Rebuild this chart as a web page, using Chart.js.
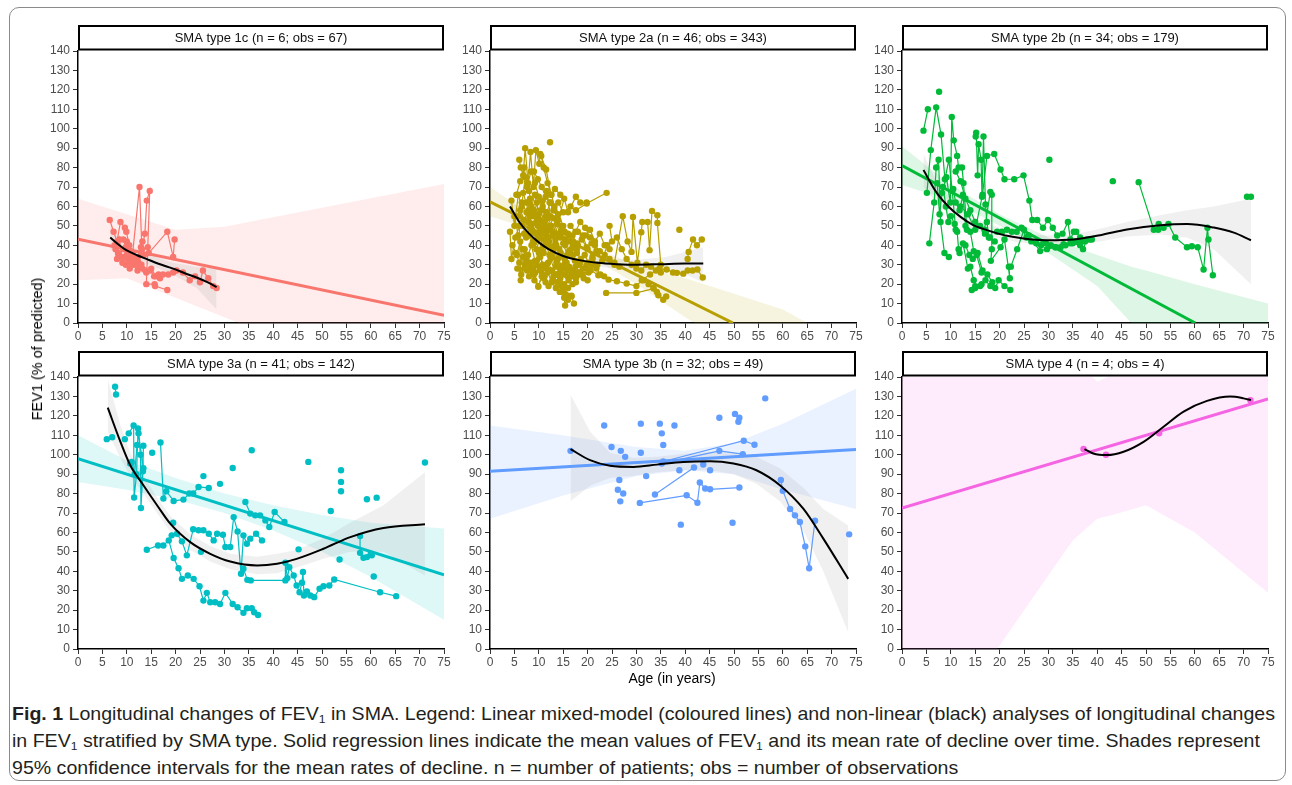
<!DOCTYPE html>
<html>
<head>
<meta charset="utf-8">
<script src="https://cdn.jsdelivr.net/npm/chart.js@4.4.1/dist/chart.umd.min.js"></script>
<style>
  body { margin: 0; width: 1292px; height: 785px; background: #fff; position: relative; overflow: hidden; font-family: "Liberation Sans", Arial, sans-serif; }
  .frame { position: absolute; left: 9px; top: 7px; width: 1275px; height: 772px; border: 1.5px solid #8a8a8a; border-radius: 10px; }
  canvas { position: absolute; }
  .ytitle { position: absolute; left: 37px; top: 349px; transform: translate(-50%, -50%) rotate(-90deg); white-space: nowrap; font-size: 14.5px; color: #000; }
  .xtitle { position: absolute; left: 672px; top: 678px; transform: translate(-50%, -50%); white-space: nowrap; font-size: 14px; color: #000; }
  .caption { position: absolute; left: 12px; top: 700px; font-family: "Liberation Sans", Arial, sans-serif; font-size: 18.5px; line-height: 27px; color: #231f20; transform-origin: 0 0; }
  .caption .line { white-space: nowrap; width: max-content; }
  .caption sub { font-size: 0.62em; vertical-align: -0.25em; line-height: 0; }
</style>
</head>
<body>
<div class="frame"></div>
<canvas id="p1c" width="422" height="320" style="left:34px;top:25px"></canvas>
<canvas id="p2a" width="422" height="320" style="left:446px;top:25px"></canvas>
<canvas id="p2b" width="422" height="320" style="left:858px;top:25px"></canvas>
<canvas id="p3a" width="422" height="320" style="left:34px;top:351px"></canvas>
<canvas id="p3b" width="422" height="320" style="left:446px;top:351px"></canvas>
<canvas id="p4" width="422" height="320" style="left:858px;top:351px"></canvas>
<div class="ytitle">FEV1 (% of predicted)</div>
<div class="xtitle">Age (in years)</div>
<div class="caption">
  <div class="line"><b>Fig. 1</b> Longitudinal changes of FEV<sub>1</sub> in SMA. Legend: Linear mixed-model (coloured lines) and non-linear (black) analyses of longitudinal changes</div>
  <div class="line">in FEV<sub>1</sub> stratified by SMA type. Solid regression lines indicate the mean values of FEV<sub>1</sub> and its mean rate of decline over time. Shades represent</div>
  <div class="line">95% confidence intervals for the mean rates of decline. n = number of patients; obs = number of observations</div>
</div>
<script>
/* ---------- data: [age, FEV1 %pred] per patient track ---------- */
const panelTitles = [
  "SMA type 1c (n = 6; obs = 67)", "SMA type 2a (n = 46; obs = 343)", "SMA type 2b (n = 34; obs = 179)",
  "SMA type 3a (n = 41; obs = 142)", "SMA type 3b (n = 32; obs = 49)", "SMA type 4 (n = 4; obs = 4)"
];
const ageTicks = { min: 0, max: 75, step: 5 };
const fevTicks = { min: 0, max: 140, step: 10 };

const obs1c = [
  [[6.5,53],[7.3,47],[8.0,42],[8.7,52],[9.6,49],[9.9,47],[10.5,40],[11.2,36],[12.6,70],[13.1,38],[13.5,35],[14.5,36],[18.3,47],[19.5,34],[19.8,43]],
  [[7.7,38],[8.0,33],[8.5,43],[9.1,31],[10.0,35],[10.6,28],[11.5,33],[12.3,29],[13.0,36],[13.7,46],[14.1,63],[14.7,68],[14.3,39],[14.0,20],[15.7,20],[15.8,19],[18.3,17]],
  [[9.3,43],[9.8,39],[10.3,36],[10.9,31],[11.6,34],[12.1,33],[12.9,39],[13.2,42]],
  [[10.0,42],[10.8,37],[11.6,32],[12.4,31],[13.2,28],[13.8,27],[14.8,27],[15.6,24],[16.5,25],[17.4,25],[18.5,25],[19.5,26],[20.2,27],[21.5,26],[22.9,22],[24.0,24],[25.0,21],[25.6,27],[26.7,23],[27.7,19],[28.4,18]],
  [[8.2,36],[9.0,34],[9.8,30],[10.6,33],[11.4,30],[12.2,27],[13.0,30],[14.0,26],[15.0,28],[16.0,24],[16.8,23]],
  [[7.5,40],[8.3,35],[9.4,38],[10.2,33],[11.0,35]]
];
const fit1c = [[0,43.1],[75,4.0]];
const ci1c = [[0,22,64],[10,23,56],[20,13,48],[30,3,49.5],[75,-42,71.5]];
const smooth1c = [[6.6,44],[8,41],[9.9,37.5],[12,35],[14,33],[16.5,30.5],[19.5,28],[22,25.5],[24.3,23.4],[26.5,21],[28.4,18.5]];
const smoothCi1c = [[6.6,38,50],[10,34,41],[14,30.5,35.5],[19.5,25,31],[24.3,18,29],[28.4,7,28]];

const obs2a = [
  [[4.1,47],[4.4,33],[5.2,44],[6.0,50],[6.3,22],[7.1,38],[8.0,30],[9.0,25],[9.9,19],[10.6,24],[11.4,21]],
  [[4.4,63],[5.0,50],[5.8,66],[6.5,60],[7.2,75],[8.0,68],[8.9,55],[9.6,62],[10.5,48],[11.2,52],[12.0,44]],
  [[6.0,84],[6.3,80],[6.8,76],[7.2,90],[7.8,72],[8.3,88],[8.9,70],[9.4,89],[10.1,82],[10.3,87],[11.5,79],[12.5,66],[13.3,69],[14.4,66]],
  [[5.5,35],[6.2,42],[7.0,28],[7.8,35],[8.5,40],[9.2,32],[10.0,36],[10.8,30],[11.6,28],[12.4,33],[13.5,25],[14.5,20],[15.0,17],[15.4,9],[16.0,14],[16.7,14],[17.2,10]],
  [[6.5,62],[7.5,57],[8.2,64],[9.0,58],[9.8,50],[10.8,60],[11.6,57],[12.4,62],[13.2,58],[14.0,53],[15.2,64],[16.0,57],[17.6,65],[18.5,62],[19.8,62]],
  [[8.0,45],[8.8,42],[9.5,38],[10.3,44],[11.0,36],[11.9,40],[12.8,34],[13.6,31],[14.5,36],[15.3,33],[16.2,29],[17.0,27],[18.0,26],[19.0,25],[20.5,27.5],[22.2,24.6],[24.3,22.3],[26.0,21.5],[28.0,20.3],[30.0,19],[31.1,22],[32.8,25],[34.7,28],[36.2,27.5],[37.5,26],[38.3,25.8],[39.6,25.4],[40.5,27],[41.5,27],[42.5,27.5],[43.6,23.4]],
  [[40.5,33],[40.7,36.6],[41.6,43],[42.4,40],[43.4,43]],
  [[25.5,31],[27.2,55],[28.2,42],[29.0,36.6],[29.3,54.6],[30.2,31],[31.0,46.7],[31.2,52],[32.3,52],[32.7,37.5],[33.2,57.7],[34.3,55.5],[34.3,51.5],[35.0,30]],
  [[23.8,15.5],[30.0,15.5],[33.5,17.7]],
  [[31.5,22],[32.5,20],[33.5,18],[34.2,16],[34.5,14.3],[35.5,12],[36.1,13.7]],
  [[10.5,86],[11.0,80],[11.8,72],[12.6,66],[13.2,60],[14.0,56],[15.0,50],[16.0,46],[17.0,42],[18.0,40],[19.0,45],[20.0,38],[21.0,34],[22.0,36],[23.0,32],[24.0,40]],
  [[12.3,93]],
  [[38.8,48]],
  [[14.0,62],[15.0,57],[16.5,60],[17.6,58],[19.8,61.5],[23.9,67]],
  [[5.0,55],[5.8,45],[6.7,38],[7.5,33],[8.4,27],[9.1,22],[9.9,18.6],[10.7,25],[11.5,30],[12.3,27],[13.0,24],[13.8,21],[14.6,19],[15.4,15],[16.0,12],[16.7,13.7]],
  [[7.0,46],[7.8,52],[8.6,48],[9.5,55],[10.2,47],[11.0,43],[11.8,48],[12.6,39],[13.4,43],[14.2,38],[15.0,41],[15.8,35],[16.6,38],[17.4,32],[18.2,30],[19.0,28],[19.8,30],[20.6,27]],
  [[8.5,60],[9.2,66],[10.0,56],[10.8,63],[11.4,55],[12.2,50],[13.0,54],[13.8,46],[14.6,50],[15.4,43],[16.2,45],[17.0,40],[17.8,36],[18.6,33],[19.4,35],[20.2,31],[21.0,33],[22.0,30]],
  [[5.6,28],[6.4,25],[7.2,30],[8.0,24],[8.8,28],[9.6,32],[10.4,27],[11.2,24],[12.0,19],[12.8,22],[13.6,25],[14.4,23],[15.2,20],[16.0,18]],
  [[24.5,50],[25.0,42],[26.0,44],[27.0,38],[28.0,33],[29.0,30],[30.0,28],[31.0,27],[32.0,30],[33.0,29],[34.0,27],[35.0,26]],
  [[9.0,78],[9.8,74],[10.6,70],[11.4,65],[12.2,62],[13.0,58],[13.8,54],[14.6,47],[15.4,40],[16.2,37],[17.0,35],[17.8,38],[18.6,32],[19.4,28],[20.2,26],[21.0,30],[21.8,28],[22.6,25],[23.4,24]],
  [[12.8,45],[13.6,40],[14.4,35],[15.2,30],[16.0,27],[16.8,24],[17.6,23],[18.4,25],[19.2,23],[20.0,22]],
  [[18.0,47],[19.5,45],[20.5,48],[21.5,42],[22.5,46],[23.5,40],[24.5,38]],
  [[5.4,66],[6.2,73],[7.0,80],[7.6,70],[8.4,78],[9.2,72],[10.0,65],[10.8,58],[11.6,68],[12.4,55]],
  [[6.8,67],[7.4,62],[8.1,55],[8.9,47],[9.7,43],[10.5,52],[11.3,46],[12.1,42],[12.9,37],[13.7,30],[14.5,28],[15.3,25],[16.1,22],[16.9,20],[17.7,24]],
  [[4.6,40],[5.3,36],[6.0,31],[6.8,34],[7.6,27],[8.4,31],[9.3,26],[10.1,29],[11.0,23],[11.8,26],[12.7,21],[13.5,18],[14.3,16],[15.2,13]],
  [[5.9,55],[6.7,50],[7.4,44],[8.2,49],[9.0,41],[9.8,45],[10.6,38],[11.4,41],[12.2,35],[13.0,38],[13.9,33],[14.8,29],[15.7,31],[16.6,27],[17.5,29],[18.4,26]],
  [[7.9,62],[8.7,57],[9.5,52],[10.4,58],[11.2,50],[12.0,54],[12.9,47],[13.7,51],[14.5,44],[15.3,47],[16.1,42],[16.9,45],[17.8,41],[18.8,43],[19.8,39],[20.8,41],[21.8,37]],
  [[9.5,30],[10.3,34],[11.1,29],[11.9,31],[12.7,27],[13.5,29],[14.3,26],[15.1,28],[15.9,24],[16.8,26],[17.6,21]],
  [[6.2,58],[7.0,53],[7.9,58],[8.6,51],[9.4,46],[10.2,53],[11.0,48],[11.8,44],[12.6,50],[13.4,41],[14.2,45]],
  [[16.5,50],[17.5,47],[18.5,52],[19.5,49],[20.5,44],[21.5,40],[22.5,37],[23.5,35],[24.5,33],[25.5,30],[26.5,29]]
];
const fit2a = [[0,62.4],[49.8,0]];
const ci2a = [[0,55,70],[10,47,53],[20,35,40],[30,20,30],[40,3,23],[50,-12,15],[60,-28,7],[65,-36,0],[75,-50,-12]];
const smooth2a = [[4.1,60],[6,52],[8,46],[10,41.5],[12,38],[15,34.5],[18,32.5],[22,31],[26,30.3],[30,30],[35,30.3],[40,30.6],[43.7,30.6]];
const smoothCi2a = [[4.1,54,66],[8,43,49],[12,35.5,40.5],[18,30.5,34.5],[24,28.5,33],[30,27.5,32.5],[36,27,34],[40,25,36.5],[43.7,21,39]];

const obs2b = [
  [[4.4,99],[5.3,110]],
  [[5.1,67],[5.9,89],[7.0,111],[8.0,97],[8.8,74],[9.6,84],[10.3,68],[11.0,48]],
  [[5.6,41],[6.6,62],[7.0,80],[7.5,84],[7.9,52],[8.7,36],[9.6,34]],
  [[7.6,119]],
  [[7.2,72],[7.7,56],[8.2,67],[9.1,75],[9.9,62],[10.2,106],[10.6,94],[11.3,86],[11.6,80],[12.3,80],[12.6,72],[13.3,48]],
  [[8.4,70],[9.0,60],[9.5,52],[10.0,55],[10.8,51],[11.3,47],[11.6,38],[11.8,36],[12.5,41],[13.5,28],[14.0,29],[14.7,22],[15.0,19],[16.0,19]],
  [[10.5,69],[11.0,62],[11.8,58],[12.5,66],[13.0,50],[14.0,47],[14.7,37],[15.3,35],[16.3,26]],
  [[15.1,96],[15.2,98],[15.5,76],[15.7,92],[16.2,84],[16.4,65],[16.7,96],[17.1,61],[17.4,52],[17.8,44]],
  [[14.3,17],[15.0,18],[16.3,20],[17.1,22],[18.1,19],[19.1,18],[19.8,22],[21.0,19],[22.2,17]],
  [[12.0,60],[13.5,56],[15.0,48],[16.5,66],[17.4,86],[18.9,87],[20.2,79],[21.0,74],[23.0,74],[24.9,76],[26.1,63],[26.7,53],[27.7,53],[28.9,49],[29.9,53],[30.9,49],[31.8,45],[32.9,46],[34.0,52],[34.5,43],[35.2,47],[35.7,47],[36.5,44],[37.1,38],[37.9,43],[38.9,43]],
  [[16.9,48],[18.1,67.5],[18.4,66],[18.4,38],[18.2,32],[20.2,39],[21.0,43],[22.1,23],[21.9,29],[22.3,29],[23.6,38],[25.0,48],[26.0,45],[28.3,37],[29.7,38],[31.4,39],[33.1,40.5],[35.0,41],[36.5,40]],
  [[19.5,47],[20.5,47],[21.5,48],[22.5,47],[23.5,47],[24.5,49],[25.5,44],[26.5,42],[27.5,41],[28.5,40],[29.5,41],[30.5,40],[31.5,39],[32.5,39],[33.5,40],[34.5,41],[35.5,42],[36.5,42],[37.5,42],[38.5,43]],
  [[30.2,84]],
  [[43.2,73]],
  [[48.5,72.5],[51.6,48],[52.5,48],[52.6,51],[53.6,49],[54.6,51],[56.0,44],[58.4,39],[59.4,39.5],[60.6,39],[61.8,27.5],[62.6,49],[62.8,43],[63.7,24.6]],
  [[70.7,65],[71.5,65]],
  [[11.0,78],[12.0,73],[13.0,64],[14.0,58],[15.0,52],[16.0,50],[17.0,46],[18.0,44],[19.0,42]],
  [[13.0,40],[13.8,35],[14.5,33],[15.5,36],[16.5,27],[17.5,25],[18.5,21]]
];
const fit2b = [[0,81],[60.1,0]];
const ci2b = [[0,71,91],[10,63,71],[20,50,56],[30,36,44],[40,19,35],[47,0,29],[50,-6,27],[60,-22,20],[75,-45,10]];
const smooth2b = [[4.4,78.7],[7.2,66.7],[9.5,60],[12,54.6],[14.5,50.5],[17.4,47.8],[20.5,45.5],[23.6,44],[26.5,43],[29.7,42.6],[35.2,43],[40.6,45.2],[46.1,48.1],[52.9,50.3],[58.4,50.9],[63.9,49.1],[68,46.5],[71.5,42.6]];
const smoothCi2b = [[4.4,70,87],[7.2,61,72],[12,51,58],[17.4,45,51],[23.6,41.5,46.5],[29.7,40,45],[35.2,40.5,45.5],[40.6,42,48.5],[46.1,44.5,52],[52.9,45.5,55.5],[58.4,44,58],[63.9,38,60],[71.5,20,64]];

const obs3a = [
  [[5.9,108],[7.0,109]],
  [[7.6,135],[7.8,131]],
  [[9.6,108]],
  [[10.4,111],[11.4,115],[11.5,78],[12.0,90],[12.3,113.5],[12.8,100],[12.9,72.6],[13.3,91.5],[13.4,104.6]],
  [[10.7,95.5],[11.0,96.3],[11.6,90],[12.1,105]],
  [[12.4,111],[13.4,93]],
  [[15.2,101]],
  [[16.9,106.3],[17.5,77.4],[18.1,81.2],[19.6,76.2],[21.6,76.9],[22.8,80],[23.6,80],[24.7,83.4],[26.8,82.9]],
  [[25.7,89]], [[29.1,85]], [[31.7,93.2]], [[35.6,102.3]], [[47.2,96.3]],
  [[53.9,92]], [[53.9,86]], [[53.9,81.2]], [[51.8,71]], [[59.2,77.1]], [[61.2,77.9]], [[71.1,96]],
  [[60.6,37.3]], [[45.2,51.3]], [[53.6,46.1]], [[25.2,50]], [[19.5,65]],
  [[14.1,51.1],[16.4,53.3],[17.5,53.3],[18.6,55.9],[19.6,46.8],[20.6,41.6],[21.3,36.1],[22.5,37.8],[23.7,36.1],[24.9,32.3],[25.7,24.9],[26.4,28.9],[27.1,24.1],[28.1,24.1],[29.1,23.2],[30.2,28.9],[31.7,23.2],[32.7,21.5],[33.9,18.6],[34.6,21],[35.6,21],[36.1,18.9],[36.9,17.5]],
  [[19.2,58.5],[20.3,59.3],[21.3,55.4],[22.3,48.2],[23.6,61.6],[24.7,61.1],[25.7,61.1],[26.8,59.3],[27.8,55.9],[28.5,59.3],[29.7,58.8],[30.2,52.5],[31.2,52.5],[31.9,67.9],[32.7,60.5],[33.4,38.7],[33.9,58.5],[34.6,54.2],[35.3,56.8],[36.5,59.3],[37.7,55.9]],
  [[34.3,75.7],[35.3,69.7],[36.3,68.8],[37.3,68.8],[38.4,66.2],[39.2,62.8],[40.3,70.5],[42.3,65.4]],
  [[33.9,41.3],[34.7,35.6],[35.4,35.3],[42.5,35.3],[42.5,44.4],[42.9,36.5],[43.3,42.1],[44.2,37.8],[44.8,32.7],[45.4,29.2],[45.9,34.1],[46.1,39.6],[46.3,27.5],[46.9,29.6],[47.6,27.5],[48.4,26.7],[49.5,31],[50.3,32.3],[51.5,32.7],[52.5,35.8],[61.9,29.2],[65.2,27.2]],
  [[57.8,58.1],[57.8,49.5],[58.5,47],[59.2,47.3],[60.0,49],[60.2,48.2]]
];
const fit3a = [[0,98],[75,38.2]];
const ci3a = [[0,86,110],[10,82,97],[20,77,88],[30,70,80],[40,61,74],[50,50,69],[60,37,65],[75,15,62]];
const smooth3a = [[6.1,124.2],[8.7,106.6],[10.7,94.6],[13.4,84.3],[16.2,74],[18.9,64.5],[23,55],[27.1,49],[31.2,45],[36.7,43],[40.8,43.9],[44.8,46.4],[50.3,51.6],[55.8,57.6],[62.6,62.3],[71.1,64.2]];
const smoothCi3a = [[6.1,112,139],[8.7,98,115],[10.7,89,101],[13.4,80,89],[16.2,70,78],[18.9,60.5,68.5],[23,51,59],[27.1,45,53],[31.2,41,49],[36.7,38.5,47.5],[40.8,39,49],[44.8,42,51],[50.3,46.5,57],[55.8,50,65],[62.6,50,74],[71.1,37.8,91]];

const obs3b = [
  [[16.5,102]], [[23.4,115]], [[24.9,104]], [[26.8,102]], [[27.7,98.9]], [[26.5,87]], [[26.2,82]], [[27.3,80]], [[26.7,76]],
  [[30.9,116]], [[30.9,101]], [[32.0,89]], [[34.8,116]], [[35.2,111]], [[35.5,105]], [[37.8,115]], [[38.8,92]], [[39.1,64]],
  [[43.7,95]], [[45.1,92]], [[47.0,119]], [[49.7,65]], [[50.2,121]], [[51.1,119]], [[50.9,117]], [[56.4,129]], [[73.6,59]],
  [[33.8,79.5],[41.8,93.4]],
  [[30.7,75.2],[40.3,79.1],[42.5,75.3],[43.0,85.7],[44.1,82.6],[45.1,82.2],[51.1,83.1]],
  [[35.2,95.5],[47.0,102],[51.8,100.3]],
  [[35.5,96.5],[52.0,107.2],[54.2,105.1]],
  [[59.6,87],[60.0,81.4],[61.5,72.1],[62.5,68.8],[63.5,65.4],[64.6,52.8],[65.4,41.6],[66.6,66]]
];
const fit3b = [[0,91.5],[75,102.7]];
const ci3b = [[0,67,115],[15,79,110],[30,89,104],[40,92,102],[50,90,106],[60,82,116],[75,72,134]];
const smooth3b = [[16.5,102.9],[20.5,97.2],[24.6,94.3],[29.4,93.7],[34.2,94.9],[39.6,96.3],[45.1,96.7],[49.9,95.5],[54.6,92],[59.4,84.3],[64.2,72.2],[68.3,56.8],[73.4,36.1]];
const smoothCi3b = [[16.5,76,131],[20.5,84,112],[24.6,88,101],[29.4,89,98.5],[34.2,91,99],[39.6,92,100.5],[45.1,92,101.5],[49.9,90,101],[54.6,85,99],[59.4,76,93],[64.2,61,83],[68.3,40,72],[73.4,8.6,63.6]];

const obs4 = [[[37.2,103]], [[41.8,100]], [[52.7,111]], [[71.4,128]]];
const fit4 = [[0,72.6],[75,128.7]];
const ci4 = [[0,-70,220],[19.5,0,170],[30,38,155],[35,56,150],[40,67,137.5],[43,69,141],[50,74,170],[60,60,190],[75,29,220]];
const smooth4 = [[37.4,102.9],[39.2,100.6],[42,99.8],[45.4,101.5],[49.5,106.6],[53.6,114.4],[57.7,122.2],[62.5,127.7],[67.3,129.9],[70,129],[71.5,128.1]];

/* ---------- panels ---------- */
const panels = [
  { id: "p1c", color: "#F8766D", obs: obs1c, fit: fit1c, ci: ci1c, smooth: smooth1c, smoothCi: smoothCi1c },
  { id: "p2a", color: "#B79F00", obs: obs2a, fit: fit2a, ci: ci2a, smooth: smooth2a, smoothCi: smoothCi2a },
  { id: "p2b", color: "#00BA38", obs: obs2b, fit: fit2b, ci: ci2b, smooth: smooth2b, smoothCi: smoothCi2b },
  { id: "p3a", color: "#00BFC4", obs: obs3a, fit: fit3a, ci: ci3a, smooth: smooth3a, smoothCi: smoothCi3a },
  { id: "p3b", color: "#619CFF", obs: obs3b, fit: fit3b, ci: ci3b, smooth: smooth3b, smoothCi: smoothCi3b },
  { id: "p4",  color: "#F564E3", obs: obs4,  fit: fit4,  ci: ci4,  smooth: smooth4,  smoothCi: null }
];

const FONT = "'Liberation Sans', Arial, sans-serif";
Chart.defaults.font.family = FONT;

const hexA = (hex, a) => {
  const n = parseInt(hex.slice(1), 16);
  return `rgba(${n >> 16},${(n >> 8) & 255},${n & 255},${a})`;
};
const xy = (rows) => rows.map(([x, y]) => ({ x, y }));

// lower edge then upper edge filled back to it
const bandSets = (rows, fill, order) => [
  { data: rows.map(([x, lo]) => ({ x, y: lo })), showLine: true, borderWidth: 0, borderColor: "transparent", pointRadius: 0, fill: false, order },
  { data: rows.map(([x, , hi]) => ({ x, y: hi })), showLine: true, borderWidth: 0, borderColor: "transparent", pointRadius: 0, fill: "-1", backgroundColor: fill, order }
];

const stripPlugin = {
  id: "strip",
  afterDraw(chart, args, opts) {
    const { ctx, chartArea: a } = chart;
    ctx.save();
    ctx.fillStyle = "#fff";
    ctx.fillRect(a.left, 0, a.right - a.left, 25);
    ctx.strokeStyle = "#000";
    ctx.lineWidth = 2;
    ctx.strokeRect(a.left + 1, 1, a.right - a.left - 2, 23.5);
    ctx.fillStyle = "#111";
    ctx.font = `13px ${FONT}`;
    ctx.textAlign = "center";
    ctx.textBaseline = "middle";
    ctx.fillText(opts.text, (a.left + a.right) / 2, 13);
    ctx.restore();
  }
};

const axis = (range, tickLength, padding, fit) => ({
  type: "linear",
  min: range.min,
  max: range.max,
  ticks: { stepSize: range.step, autoSkip: false, maxRotation: 0, color: "#4d4d4d", font: { size: 12 }, padding },
  grid: { drawOnChartArea: false, drawTicks: true, tickLength, color: "#333" },
  border: { display: true, color: "#000", width: 1.5 },
  afterFit: fit
});

panels.forEach((p, i) => {
  const datasets = [
    { data: xy(p.smooth), showLine: true, borderColor: "#000", borderWidth: 2, pointRadius: 0, cubicInterpolationMode: "monotone", order: 0 },
    { data: xy(p.fit), showLine: true, borderColor: p.color, borderWidth: 3, pointRadius: 0, order: 1 },
    ...p.obs.map((track) => ({
      data: xy(track), showLine: track.length > 1, borderColor: p.color, backgroundColor: p.color,
      borderWidth: 1.2, pointRadius: 3.2, pointBorderWidth: 0, order: 2
    })),
    ...(p.smoothCi ? bandSets(p.smoothCi, "rgba(150,150,150,0.14)", 3) : []),
    ...bandSets(p.ci, hexA(p.color, 0.13), 4)
  ];

  new Chart(document.getElementById(p.id), {
    type: "scatter",
    data: { datasets },
    options: {
      responsive: false,
      animation: false,
      layout: { padding: { top: 26, right: 12, left: 0, bottom: 0 } },
      plugins: { legend: { display: false }, tooltip: { enabled: false }, strip: { text: panelTitles[i] } },
      scales: {
        x: axis(ageTicks, 5, 1, (s) => { s.height = 22; }),
        y: axis(fevTicks, 5, 3, (s) => { s.width = 44; })
      }
    },
    plugins: [stripPlugin]
  });
});

// squeeze caption lines to the figure width (condensed caption face)
document.fonts.ready.then(() => {
  const cap = document.querySelector(".caption");
  const w = cap.querySelector(".line").getBoundingClientRect().width;
  cap.style.transform = `scaleX(${(1263 / w).toFixed(4)})`;
});
</script>
</body>
</html>
